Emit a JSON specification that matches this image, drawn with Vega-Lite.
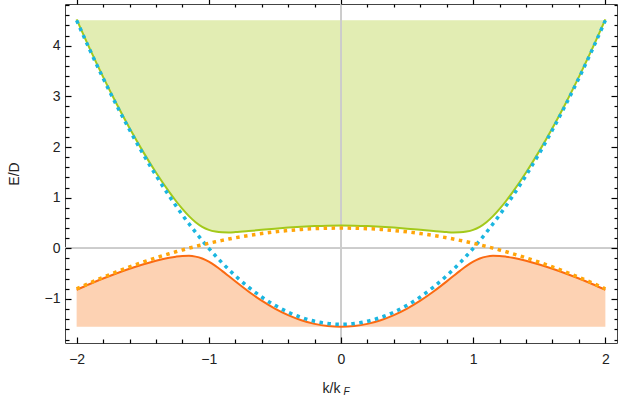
{
  "$schema": "https://vega.github.io/schema/vega-lite/v6.json",
  "width": 552,
  "height": 339,
  "autosize": "none",
  "padding": {"left": 65, "top": 4, "right": 20, "bottom": 62},
  "background": "white",
  "config": {
    "view": {"stroke": "#444", "strokeWidth": 1},
    "axis": {"labelFont": "Liberation Sans", "titleFont": "Liberation Sans", "labelFontSize": 14, "titleFontSize": 14, "labelColor": "#222", "titleColor": "#222", "titleFontWeight": "normal", "domain": false, "grid": false}
  },
  "data": {"values": [
    {"k": -2.0, "a": 4.5, "b": -0.8, "up": 4.5181, "lo": -0.8181},
    {"k": -1.9, "a": 3.915, "b": -0.683, "up": 3.9358, "lo": -0.7038},
    {"k": -1.8, "a": 3.36, "b": -0.572, "up": 3.3843, "lo": -0.5963},
    {"k": -1.7, "a": 2.835, "b": -0.467, "up": 2.8639, "lo": -0.4959},
    {"k": -1.6, "a": 2.34, "b": -0.368, "up": 2.375, "lo": -0.403},
    {"k": -1.5, "a": 1.875, "b": -0.275, "up": 1.9188, "lo": -0.3188},
    {"k": -1.4, "a": 1.44, "b": -0.188, "up": 1.497, "lo": -0.245},
    {"k": -1.3, "a": 1.035, "b": -0.107, "up": 1.1137, "lo": -0.1857},
    {"k": -1.25, "a": 0.84375, "b": -0.06875, "up": 0.9391, "lo": -0.1641},
    {"k": -1.2, "a": 0.66, "b": -0.032, "up": 0.7786, "lo": -0.1506},
    {"k": -1.15, "a": 0.48375, "b": 0.00325, "up": 0.6357, "lo": -0.1487},
    {"k": -1.1, "a": 0.315, "b": 0.037, "up": 0.5157, "lo": -0.1637},
    {"k": -1.05, "a": 0.15375, "b": 0.06925, "up": 0.4244, "lo": -0.2014},
    {"k": -1.0, "a": 0.0, "b": 0.1, "up": 0.364, "lo": -0.264},
    {"k": -0.95, "a": -0.14625, "b": 0.12925, "up": 0.3307, "lo": -0.3477},
    {"k": -0.9, "a": -0.285, "b": 0.157, "up": 0.3167, "lo": -0.4447},
    {"k": -0.85, "a": -0.41625, "b": 0.18325, "up": 0.3147, "lo": -0.5477},
    {"k": -0.8, "a": -0.54, "b": 0.208, "up": 0.3198, "lo": -0.6518},
    {"k": -0.7, "a": -0.765, "b": 0.253, "up": 0.34, "lo": -0.852},
    {"k": -0.6, "a": -0.96, "b": 0.292, "up": 0.3646, "lo": -1.0326},
    {"k": -0.5, "a": -1.125, "b": 0.325, "up": 0.3885, "lo": -1.1885},
    {"k": -0.4, "a": -1.26, "b": 0.352, "up": 0.4096, "lo": -1.3176},
    {"k": -0.3, "a": -1.365, "b": 0.373, "up": 0.4266, "lo": -1.4186},
    {"k": -0.2, "a": -1.44, "b": 0.388, "up": 0.4391, "lo": -1.4911},
    {"k": -0.1, "a": -1.485, "b": 0.397, "up": 0.4468, "lo": -1.5348},
    {"k": 0.0, "a": -1.5, "b": 0.4, "up": 0.4493, "lo": -1.5493},
    {"k": 0.1, "a": -1.485, "b": 0.397, "up": 0.4468, "lo": -1.5348},
    {"k": 0.2, "a": -1.44, "b": 0.388, "up": 0.4391, "lo": -1.4911},
    {"k": 0.3, "a": -1.365, "b": 0.373, "up": 0.4266, "lo": -1.4186},
    {"k": 0.4, "a": -1.26, "b": 0.352, "up": 0.4096, "lo": -1.3176},
    {"k": 0.5, "a": -1.125, "b": 0.325, "up": 0.3885, "lo": -1.1885},
    {"k": 0.6, "a": -0.96, "b": 0.292, "up": 0.3646, "lo": -1.0326},
    {"k": 0.7, "a": -0.765, "b": 0.253, "up": 0.34, "lo": -0.852},
    {"k": 0.8, "a": -0.54, "b": 0.208, "up": 0.3198, "lo": -0.6518},
    {"k": 0.85, "a": -0.41625, "b": 0.18325, "up": 0.3147, "lo": -0.5477},
    {"k": 0.9, "a": -0.285, "b": 0.157, "up": 0.3167, "lo": -0.4447},
    {"k": 0.95, "a": -0.14625, "b": 0.12925, "up": 0.3307, "lo": -0.3477},
    {"k": 1.0, "a": 0.0, "b": 0.1, "up": 0.364, "lo": -0.264},
    {"k": 1.05, "a": 0.15375, "b": 0.06925, "up": 0.4244, "lo": -0.2014},
    {"k": 1.1, "a": 0.315, "b": 0.037, "up": 0.5157, "lo": -0.1637},
    {"k": 1.15, "a": 0.48375, "b": 0.00325, "up": 0.6357, "lo": -0.1487},
    {"k": 1.2, "a": 0.66, "b": -0.032, "up": 0.7786, "lo": -0.1506},
    {"k": 1.25, "a": 0.84375, "b": -0.06875, "up": 0.9391, "lo": -0.1641},
    {"k": 1.3, "a": 1.035, "b": -0.107, "up": 1.1137, "lo": -0.1857},
    {"k": 1.4, "a": 1.44, "b": -0.188, "up": 1.497, "lo": -0.245},
    {"k": 1.5, "a": 1.875, "b": -0.275, "up": 1.9188, "lo": -0.3188},
    {"k": 1.6, "a": 2.34, "b": -0.368, "up": 2.375, "lo": -0.403},
    {"k": 1.7, "a": 2.835, "b": -0.467, "up": 2.8639, "lo": -0.4959},
    {"k": 1.8, "a": 3.36, "b": -0.572, "up": 3.3843, "lo": -0.5963},
    {"k": 1.9, "a": 3.915, "b": -0.683, "up": 3.9358, "lo": -0.7038},
    {"k": 2.0, "a": 4.5, "b": -0.8, "up": 4.5181, "lo": -0.8181}
  ]},
  "resolve": {"axis": {"x": "independent", "y": "independent"}},
  "layer": [
    {
      "mark": {"type": "area", "color": "#e2edb3", "interpolate": "monotone", "clip": true},
      "encoding": {
        "x": {"field": "k", "type": "quantitative", "scale": {"domain": [-2.088, 2.088], "nice": false, "zero": false},
          "axis": {"orient": "bottom", "title": "k/k", "titleX": 266, "titleY": 38, "titleAlign": "center", "values": [-2, -1, 0, 1, 2], "ticks": true, "tickColor": "#000000", "tickWidth": 1.2, "tickSize": -6, "labelPadding": 15, "zindex": 3}},
        "y": {"field": "up", "type": "quantitative", "scale": {"domain": [-1.869, 4.823], "nice": false, "zero": false},
          "axis": {"orient": "left", "title": "E/D", "titleX": -44, "values": [-1, 0, 1, 2, 3, 4], "ticks": true, "tickColor": "#000000", "tickWidth": 1.2, "tickSize": -6, "labelPadding": 11, "zindex": 3}},
        "y2": {"datum": 4.5}
      }
    },
    {
      "mark": {"type": "area", "color": "#fdd2b3", "interpolate": "monotone", "clip": true},
      "encoding": {
        "x": {"field": "k", "type": "quantitative",
          "axis": {"orient": "bottom", "zindex": 3, "offset": -4, "tickSize": 4, "tickColor": "#000000", "tickWidth": 1.2, "title": "F", "titleFontSize": 10, "titleX": 281, "titleY": 47, "titleAlign": "center", "titleFontStyle": "italic", "values": [-1.8, -1.6, -1.4, -1.2, -0.8, -0.6, -0.4, -0.2, 0.2, 0.4, 0.6, 0.8, 1.2, 1.4, 1.6, 1.8], "labels": false}},
        "y": {"field": "lo", "type": "quantitative",
          "axis": {"orient": "left", "zindex": 3, "offset": -4, "tickSize": 4, "tickColor": "#000000", "tickWidth": 1.2, "title": null, "values": [-1.8, -1.6, -1.4, -1.2, -0.8, -0.6, -0.4, -0.2, 0.2, 0.4, 0.6, 0.8, 1.2, 1.4, 1.6, 1.8, 2.2, 2.4, 2.6, 2.8, 3.2, 3.4, 3.6, 3.8, 4.2, 4.4, 4.6, 4.8], "labels": false}},
        "y2": {"datum": -1.546}
      }
    },
    {
      "mark": {"type": "rule", "color": "#cccccc", "strokeWidth": 1},
      "encoding": {"x": {"datum": 0, "type": "quantitative", "axis": null}}
    },
    {
      "mark": {"type": "rule", "color": "#cccccc", "strokeWidth": 1},
      "encoding": {"y": {"datum": 0, "type": "quantitative", "axis": null}}
    },
    {
      "mark": {"type": "line", "color": "#a3c91a", "strokeWidth": 2, "interpolate": "monotone", "clip": true},
      "encoding": {
        "x": {"field": "k", "type": "quantitative",
          "axis": {"orient": "top", "zindex": 3, "tickSize": 6, "tickColor": "#000000", "tickWidth": 1.2, "title": null, "values": [-2, -1, 0, 1, 2], "labels": false}},
        "y": {"field": "up", "type": "quantitative",
          "axis": {"orient": "right", "zindex": 3, "tickSize": -6, "tickColor": "#000000", "tickWidth": 1.2, "title": null, "values": [-1, 0, 1, 2, 3, 4], "labels": false}}
      }
    },
    {
      "mark": {"type": "line", "color": "#fb6a12", "strokeWidth": 2, "interpolate": "monotone", "clip": true},
      "encoding": {
        "x": {"field": "k", "type": "quantitative",
          "axis": {"orient": "top", "zindex": 3, "offset": -3, "tickSize": 3, "tickColor": "#000000", "tickWidth": 1.2, "title": null, "values": [-1.8, -1.6, -1.4, -1.2, -0.8, -0.6, -0.4, -0.2, 0.2, 0.4, 0.6, 0.8, 1.2, 1.4, 1.6, 1.8], "labels": false}},
        "y": {"field": "lo", "type": "quantitative",
          "axis": {"orient": "right", "zindex": 3, "offset": -3, "tickSize": 3, "tickColor": "#000000", "tickWidth": 1.2, "title": null, "values": [-1.8, -1.6, -1.4, -1.2, -0.8, -0.6, -0.4, -0.2, 0.2, 0.4, 0.6, 0.8, 1.2, 1.4, 1.6, 1.8, 2.2, 2.4, 2.6, 2.8, 3.2, 3.4, 3.6, 3.8, 4.2, 4.4, 4.6, 4.8], "labels": false}}
      }
    },
    {
      "mark": {"type": "line", "color": "#1bb6e0", "strokeWidth": 3.5, "strokeDash": [3.5, 4.5], "strokeCap": "butt", "interpolate": "monotone", "clip": true},
      "encoding": {
        "x": {"field": "k", "type": "quantitative", "axis": null},
        "y": {"field": "a", "type": "quantitative", "axis": null}
      }
    },
    {
      "mark": {"type": "line", "color": "#ffa50a", "strokeWidth": 3.5, "strokeDash": [3.5, 4.5], "strokeCap": "butt", "interpolate": "monotone", "clip": true},
      "encoding": {
        "x": {"field": "k", "type": "quantitative", "axis": null},
        "y": {"field": "b", "type": "quantitative", "axis": null}
      }
    }
  ]
}
